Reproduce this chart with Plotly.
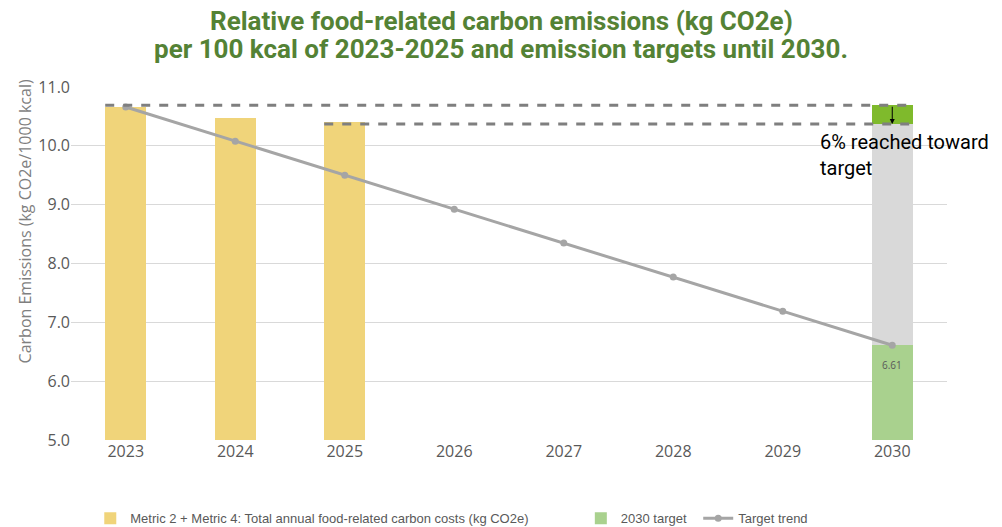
import plotly.graph_objects as go

# Years on the category axis
years = ["2023", "2024", "2025", "2026", "2027", "2028", "2029", "2030"]

# Measured relative emissions (kg CO2e per 1000 kcal)
measured_years = ["2023", "2024", "2025"]
measured_values = [10.66, 10.47, 10.40]

# Linear target trend from the 2023 baseline to the 2030 target
trend_values = [10.66, 10.08, 9.50, 8.92, 8.35, 7.77, 7.19, 6.61]

target_2030 = 6.61
baseline_level = 10.69   # upper reference (2023 level)
current_level = 10.37    # lower reference (2025 level)

legend_labels = [
    "Metric 2 + Metric 4: Total annual food-related carbon costs (kg CO2e)",
    "2030 target",
    "Target trend",
]

title_lines = [
    "Relative food-related carbon emissions (kg CO2e)",
    "per 100 kcal of 2023-2025 and emission targets until 2030.",
]
y_title = "Carbon Emissions (kg CO2e/1000 kcal)"
progress_text = "6% reached toward<br>target"

YELLOW = "#f0d47a"
LIGHT_GREEN = "#a9d18e"
BRIGHT_GREEN = "#7fba2c"
GREY_BAR = "#d9d9d9"
TREND_GREY = "#a5a5a5"
DASH_GREY = "#7f7f7f"
TEXT_GREY = "#595959"
TITLE_GREEN = "#548235"

BAR_GAP = 0.625
half_bar = (1 - BAR_GAP) / 2

fig = go.Figure()

fig.add_trace(go.Bar(
    x=measured_years, y=measured_values, name=legend_labels[0],
    marker=dict(color=YELLOW, line=dict(width=0)),
    legend="legend", hoverinfo="x+y",
))

fig.add_trace(go.Bar(
    x=[years[-1]], y=[target_2030], name=legend_labels[1],
    marker=dict(color=LIGHT_GREEN, line=dict(width=0)),
    legend="legend2",
))

# Remaining gap to target and progress already reached in 2030 column
fig.add_trace(go.Bar(
    x=[years[-1]], y=[current_level - target_2030],
    marker=dict(color=GREY_BAR, line=dict(width=0)),
    showlegend=False, hoverinfo="skip",
))
fig.add_trace(go.Bar(
    x=[years[-1]], y=[baseline_level - current_level],
    marker=dict(color=BRIGHT_GREEN, line=dict(width=0)),
    showlegend=False, hoverinfo="skip",
))

fig.add_trace(go.Scatter(
    x=years, y=trend_values, name=legend_labels[2], mode="lines+markers",
    line=dict(color=TREND_GREY, width=3),
    marker=dict(color=TREND_GREY, size=7),
    legend="legend3",
))

last_idx = len(years) - 1

# Value label for the 2030 target, just below the top of its bar
fig.add_annotation(x=last_idx, y=target_2030, xref="x", yref="y",
                   yshift=-20, showarrow=False, text=f"{target_2030:.2f}",
                   font=dict(size=10, color=TEXT_GREY, family="Open Sans"))

# Dashed reference levels
fig.add_shape(type="line", xref="x", yref="y",
              x0=0 - half_bar, x1=last_idx + half_bar,
              y0=baseline_level, y1=baseline_level,
              line=dict(color=DASH_GREY, width=3, dash="dash"))
fig.add_shape(type="line", xref="x", yref="y",
              x0=measured_years.index("2025") - half_bar, x1=last_idx + half_bar,
              y0=current_level, y1=current_level,
              line=dict(color=DASH_GREY, width=3, dash="dash"))

# Arrow showing the reduction achieved so far
fig.add_annotation(x=last_idx, y=current_level, ax=last_idx, ay=baseline_level,
                   xref="x", yref="y", axref="x", ayref="y",
                   showarrow=True, arrowhead=2, arrowsize=1, arrowwidth=1,
                   arrowcolor="black", text="")

fig.add_annotation(x=0.853, y=0.884, xref="paper", yref="paper",
                   xanchor="left", yanchor="top", align="left",
                   text=progress_text, showarrow=False,
                   font=dict(size=20, color="black", family="Roboto"))

# Two-line title
for line, ypos in zip(title_lines, [1.187, 1.107]):
    fig.add_annotation(x=0.491, y=ypos, xref="paper", yref="paper",
                       xanchor="center", yanchor="middle", showarrow=False,
                       text=f"<b>{line}</b>",
                       font=dict(size=26, color=TITLE_GREEN, family="Roboto"))

# Y-axis title
fig.add_annotation(x=-0.053, y=0.618, xref="paper", yref="paper",
                   xanchor="center", yanchor="middle", textangle=-90,
                   showarrow=False, text=y_title,
                   font=dict(size=16, color="#7f7f7f", family="Open Sans"))

legend_common = dict(orientation="h", yanchor="middle", y=-0.222,
                     bgcolor="rgba(0,0,0,0)",
                     font=dict(size=13, color=TEXT_GREY,
                               family="Liberation Sans Narrow, Liberation Sans"))

fig.update_layout(
    width=1002, height=527,
    margin=dict(l=71, r=55, t=87, b=87, autoexpand=False),
    paper_bgcolor="white", plot_bgcolor="white",
    barmode="stack", bargap=BAR_GAP,
    xaxis=dict(type="category", categoryorder="array", categoryarray=years,
               showgrid=False, showline=False, ticks="",
               tickfont=dict(size=16, color=TEXT_GREY, family="Open Sans")),
    yaxis=dict(range=[5, 11], dtick=1, tickformat=".1f",
               showgrid=True, gridcolor="#d9d9d9", gridwidth=1,
               zeroline=False, showline=False,
               tickfont=dict(size=16, color=TEXT_GREY, family="Open Sans")),
    legend=dict(x=0.022, xanchor="left", **legend_common),
    legend2=dict(x=0.582, xanchor="left", **legend_common),
    legend3=dict(x=0.716, xanchor="left", **legend_common),
    showlegend=True,
)

fig.write_html("out.html")
